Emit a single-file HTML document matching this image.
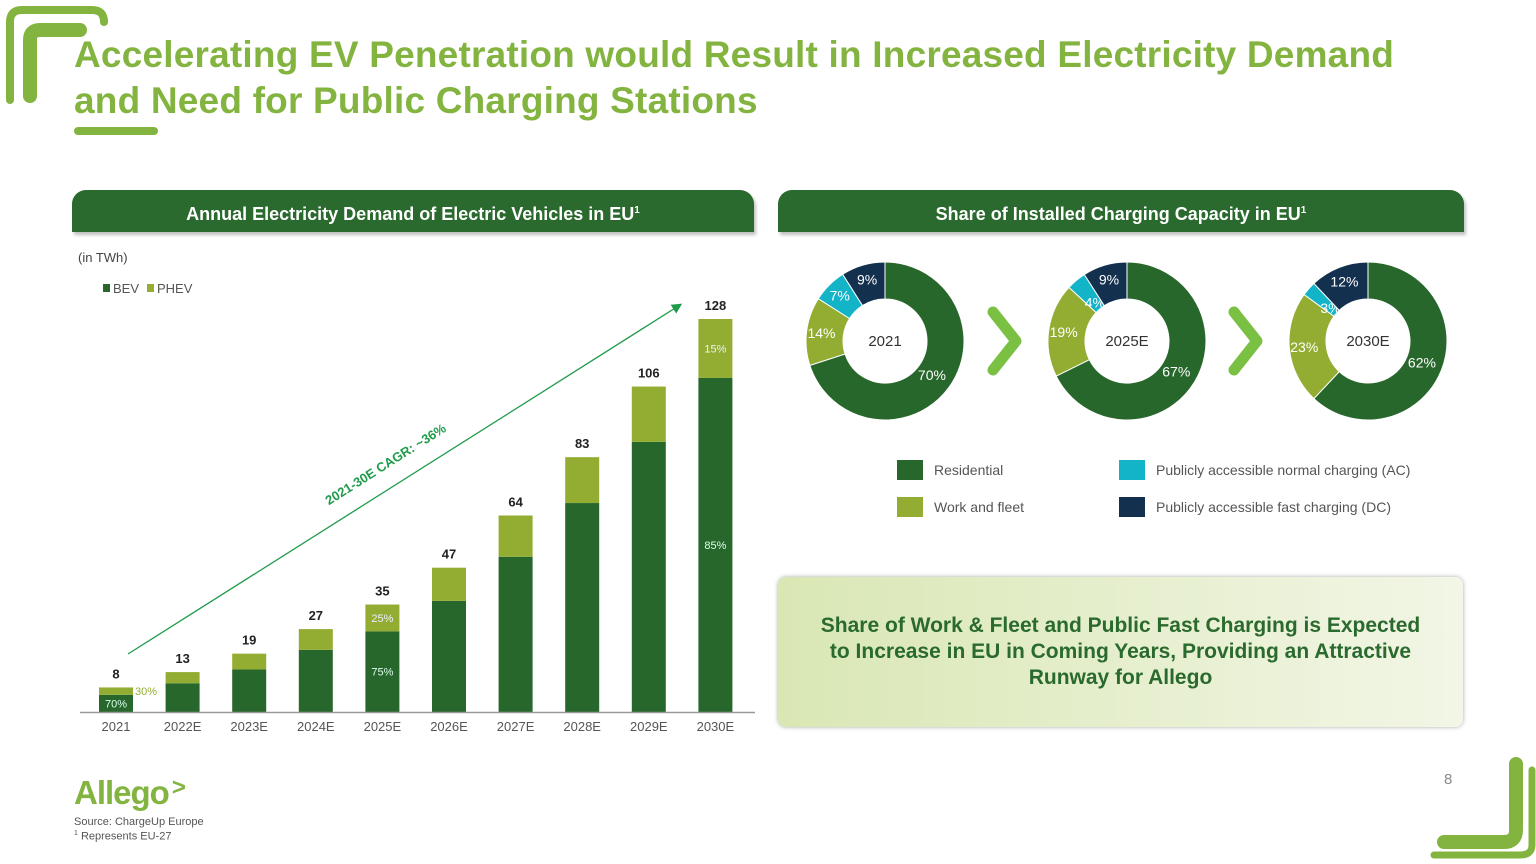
<!DOCTYPE html>
<html><head><meta charset="utf-8">
<style>
body{margin:0;width:1536px;height:864px;background:#fff;font-family:"Liberation Sans",sans-serif;position:relative;overflow:hidden}
.abs{position:absolute}
.title{left:74px;top:32px;font-size:37px;font-weight:bold;color:#84b440;line-height:46px;letter-spacing:0.2px}
.hdr{height:42px;background:#2a6a2e;border-radius:14px 14px 0 0;color:#fff;font-weight:bold;font-size:18px;text-align:center;line-height:42px;box-shadow:2px 3px 3px rgba(0,0,0,0.25)}
.box{left:778px;top:577px;width:685px;height:150px;background:linear-gradient(90deg,#d9e7b4,#f2f6e6);border-radius:8px;box-shadow:0 0 4px rgba(0,0,0,0.35);color:#2a6a2e;font-weight:bold;font-size:21px;text-align:center;line-height:26px;display:flex;align-items:center;justify-content:center}
.leg{font-size:14px;color:#555}
.sw{width:26px;height:20px}
</style></head><body>
<svg class="abs" style="left:0;top:0" width="170" height="140">
<path d="M10 100 V22 Q10 10 22 10 H92 Q104 10 104 22" fill="none" stroke="#84b440" stroke-width="8" stroke-linecap="round"/>
<path d="M30 96 V40 Q30 30 40 30 H80" fill="none" stroke="#84b440" stroke-width="14" stroke-linecap="round"/>
</svg>
<svg class="abs" style="left:1420px;top:750px" width="116" height="114">
<path d="M96 14 V80 Q96 92 84 92 H24" fill="none" stroke="#84b440" stroke-width="14" stroke-linecap="round"/>
<path d="M112 20 V95 Q112 105 100 105 H14" fill="none" stroke="#84b440" stroke-width="7" stroke-linecap="round"/>
</svg>
<div class="abs title">Accelerating EV Penetration would Result in Increased Electricity Demand<br>and Need for Public Charging Stations</div>
<div class="abs" style="left:74px;top:127px;width:84px;height:8px;border-radius:4px;background:#84b440"></div>

<div class="abs hdr" style="left:72px;top:190px;width:682px">Annual Electricity Demand of Electric Vehicles in EU<sup style="font-size:10px">1</sup></div>
<div class="abs hdr" style="left:778px;top:190px;width:686px">Share of Installed Charging Capacity in EU<sup style="font-size:10px">1</sup></div>

<svg id="bars" class="abs" style="left:0;top:240px" width="770" height="510"></svg>
<svg id="donuts" class="abs" style="left:770px;top:250px" width="720" height="190"></svg>

<div class="abs sw" style="left:897px;top:460px;background:#27672b"></div>
<div class="abs leg" style="left:934px;top:462px">Residential</div>
<div class="abs sw" style="left:897px;top:497px;background:#92ad32"></div>
<div class="abs leg" style="left:934px;top:499px">Work and fleet</div>
<div class="abs sw" style="left:1119px;top:460px;background:#13b3c8"></div>
<div class="abs leg" style="left:1156px;top:462px">Publicly accessible normal charging (AC)</div>
<div class="abs sw" style="left:1119px;top:497px;background:#14304f"></div>
<div class="abs leg" style="left:1156px;top:499px">Publicly accessible fast charging (DC)</div>

<div class="abs box"><div>Share of Work &amp; Fleet and Public Fast Charging is Expected<br>to Increase in EU in Coming Years, Providing an Attractive<br>Runway for Allego</div></div>

<div class="abs" style="left:74px;top:774px;font-size:33px;font-weight:bold;color:#84b440;letter-spacing:-1px">Allego<span style="font-size:24px;vertical-align:top;margin-left:3px">&gt;</span></div>
<div class="abs" style="left:74px;top:816px;font-size:11px;color:#555">Source: ChargeUp Europe</div>
<div class="abs" style="left:74px;top:830px;font-size:11px;color:#555"><sup style="font-size:7px">1</sup> Represents EU-27</div>
<div class="abs" style="left:1444px;top:771px;font-size:15px;color:#888">8</div>

<script>
const categories=["2021","2022E","2023E","2024E","2025E","2026E","2027E","2028E","2029E","2030E"];
const totals=[8,13,19,27,35,47,64,83,106,128];
const phevShare=[0.30,0.28,0.27,0.25,0.25,0.23,0.21,0.18,0.17,0.15];
const donutYears=["2021","2025E","2030E"];
const residential=[70,67,62];
const workFleet=[14,19,23];
const publicAC=[7,4,3];
const publicDC=[9,9,12];

const NS="http://www.w3.org/2000/svg";
function mk(p,t,a){const e=document.createElementNS(NS,t);for(const k in a)e.setAttribute(k,a[k]);p.appendChild(e);return e;}
const bs=document.getElementById('bars');
const base=472, scale=393/128;
const x=i=>116+i*66.6;
const y=v=>base-v*scale;
mk(bs,'text',{x:78,y:22,'font-size':13,fill:'#444'}).textContent='(in TWh)';
let r=mk(bs,'rect',{x:103,y:44,width:7,height:8,fill:'#27672b'});

mk(bs,'text',{x:113,y:53,'font-size':13,fill:'#555'}).textContent='BEV';
r=mk(bs,'rect',{x:147,y:44,width:7,height:8,fill:'#92ad32'});

mk(bs,'text',{x:157,y:53,'font-size':13,fill:'#555'}).textContent='PHEV';
categories.forEach((c,i)=>{
  const t=totals[i], bev=t*(1-phevShare[i]);
  const b=mk(bs,'rect',{x:x(i)-17,y:y(bev),width:34,height:base-y(bev),fill:'#27672b'});
  
  
  const p=mk(bs,'rect',{x:x(i)-17,y:y(t),width:34,height:y(bev)-y(t),fill:'#92ad32'});
  
  
  const tl=mk(bs,'text',{x:x(i),y:y(t)-9,'font-size':13,'font-weight':'bold','text-anchor':'middle',fill:'#222'});
  tl.textContent=t;
  
  
  const xl=mk(bs,'text',{x:x(i),y:base+19,'font-size':13,'text-anchor':'middle',fill:'#555'});
  xl.textContent=c;
  
  
});
mk(bs,'line',{x1:80,y1:base+0.5,x2:755,y2:base+0.5,stroke:'#999','stroke-width':1.5});
function pct(i,which,dx,col){
  const t=totals[i], bev=t*(1-phevShare[i]);
  const v= which==='b'? bev/2 : bev+(t-bev)/2;
  const s= which==='b'? Math.round((1-phevShare[i])*100) : Math.round(phevShare[i]*100);
  mk(bs,'text',{x:x(i)+dx,y:y(v)+4,'font-size':11,'text-anchor':'middle',fill:col}).textContent=s+'%';
}
pct(0,'b',0,'#dfe'); pct(0,'p',30,'#92ad32'); pct(4,'b',0,'#dfe'); pct(4,'p',0,'#eef'); pct(9,'b',0,'#dfe'); pct(9,'p',0,'#eef');
mk(bs,'defs',{}).innerHTML='<marker id="ah" markerWidth="8" markerHeight="8" refX="6" refY="4" orient="auto"><path d="M0,0 L8,4 L0,8 z" fill="#1e9b4b"/></marker>';
mk(bs,'line',{x1:128,y1:414,x2:680,y2:65,stroke:'#1e9b4b','stroke-width':1.3,'marker-end':'url(#ah)'});
const ct=mk(bs,'text',{x:388,y:228,'font-size':13,'font-weight':'bold',fill:'#1e9b4b','text-anchor':'middle',transform:'rotate(-32.3 388 228)'});
ct.textContent='2021-30E CAGR: ~36%';


const ds=document.getElementById('donuts');
const cols=['#27672b','#92ad32','#13b3c8','#14304f'];
const cx=[115,357,598], cy=91, R=79, r0=42;
function pt(a,rad,c){return [c+rad*Math.sin(a), cy-rad*Math.cos(a)];}
donutYears.forEach((yr,k)=>{
  const vals=[residential[k],workFleet[k],publicAC[k],publicDC[k]];
  const sum=vals.reduce((a,b)=>a+b,0);
  let a0=0;
  vals.forEach((v,j)=>{
    const a1=a0+v/sum*2*Math.PI, lg=(a1-a0)>Math.PI?1:0;
    const [x1,y1]=pt(a0,R,cx[k]),[x2,y2]=pt(a1,R,cx[k]),[x3,y3]=pt(a1,r0,cx[k]),[x4,y4]=pt(a0,r0,cx[k]);
    const s=mk(ds,'path',{d:`M${x1} ${y1} A${R} ${R} 0 ${lg} 1 ${x2} ${y2} L${x3} ${y3} A${r0} ${r0} 0 ${lg} 0 ${x4} ${y4}Z`,fill:cols[j],stroke:'#fff','stroke-width':1});
    
    
    const am=(a0+a1)/2, rr= j===0?58:(j===2&&v<5?50:64);
    const [lx,ly]= pt(am,rr,cx[k]);
    mk(ds,'text',{x:lx,y:ly+5,'font-size':14,'text-anchor':'middle',fill:'#fff'}).textContent=v+'%';
    a0=a1;
  });
  mk(ds,'text',{x:cx[k],y:cy+5,'font-size':15,'text-anchor':'middle',fill:'#333'}).textContent=yr;
});
[236,477].forEach(ax=>{mk(ds,'path',{d:`M${ax-13} ${62} L${ax+10} ${91} L${ax-13} ${120}`,fill:'none',stroke:'#7ac143','stroke-width':11,'stroke-linecap':'round','stroke-linejoin':'round'});});
</script>
</body></html>
